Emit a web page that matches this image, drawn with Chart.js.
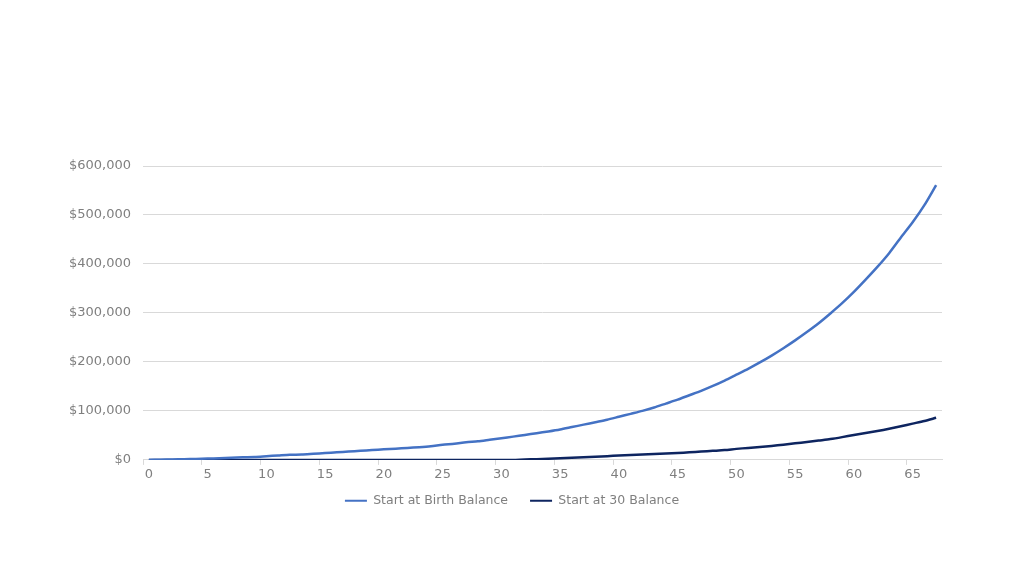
<!DOCTYPE html>
<html>
<head>
<meta charset="utf-8">
<script src="https://cdn.jsdelivr.net/npm/chart.js@4"></script>
<style>
html,body{margin:0;padding:0;background:#fff;}
#wrap{width:1024px;height:576px;}
</style>
</head>
<body>
<div id="wrap"><canvas id="c" width="1024" height="576"></canvas></div>
<script>
const ages = Array.from({length: 68}, (_, i) => String(i));
const birthBalance = [
  0, 500, 1000, 1500, 2000, 2700, 3400, 4200, 5200, 6000,
  7500, 9000, 10500, 11000, 12500, 14000, 15500, 17000, 18500, 20000,
  21500, 23000, 24500, 26000, 28000, 31000, 33000, 36000, 38000, 41000,
  44000, 47500, 51000, 54500, 58000, 62000, 67000, 72000, 77000, 82000,
  88000, 94000, 100000, 107000, 115000, 123000, 132000, 141000, 151000, 162000,
  174000, 186000, 199000, 213000, 228000, 244000, 261000, 279000, 299000, 320000,
  343000, 368000, 394000, 422000, 454000, 485000, 520000, 561000
];
const start30Balance = [
  0, 0, 0, 0, 0, 0, 0, 0, 0, 0,
  0, 0, 0, 0, 0, 0, 0, 0, 0, 0,
  0, 0, 0, 0, 0, 0, 0, 0, 0, 0,
  0, 0, 1000, 1500, 2500, 3500, 4500, 5500, 6500, 7500,
  9000, 10000, 11000, 12000, 13000, 14000, 15500, 17000, 18500, 20000,
  22500, 24500, 26500, 28500, 31000, 34000, 36500, 39500, 42500, 46500,
  51000, 55000, 59000, 63500, 68500, 74000, 79500, 86000
];
const seriesNames = ['Start at Birth Balance', 'Start at 30 Balance'];
const yTicks = [0, 100000, 200000, 300000, 400000, 500000, 600000];

const FONT = 'DejaVu Sans';
const GREY = '#7f7f7f';

const legendShift = {
  id: 'legendShift',
  afterUpdate(chart) {
    const lg = chart.legend;
    if (!lg) return;
    lg.top -= 12;
    lg.bottom -= 12;
    if (lg.adjustHitBoxes) lg.adjustHitBoxes();
  }
};

new Chart(document.getElementById('c'), {
  type: 'line',
  data: {
    labels: ages,
    datasets: [
      { label: seriesNames[0], data: birthBalance, borderColor: '#4472C4', backgroundColor: '#4472C4', borderWidth: 2.5, pointRadius: 0, tension: 0.25 },
      { label: seriesNames[1], data: start30Balance, borderColor: '#0E2560', backgroundColor: '#0E2560', borderWidth: 2.5, pointRadius: 0, tension: 0.25 }
    ]
  },
  plugins: [legendShift],
  options: {
    responsive: false,
    animation: false,
    devicePixelRatio: 1,
    layout: { padding: { top: 166, right: 0, bottom: 47, left: 0 } },
    plugins: {
      tooltip: { enabled: false },
      legend: {
        position: 'bottom',
        labels: {
          boxWidth: 22, boxHeight: 2, padding: 22,
          color: GREY, font: { family: FONT, size: 12.5 },
          generateLabels: (chart) => Chart.defaults.plugins.legend.labels.generateLabels(chart).map(it => Object.assign(it, { lineWidth: 0 }))
        }
      }
    },
    scales: {
      x: {
        offset: true,
        border: { display: true, color: '#d9d9d9' },
        grid: {
          offset: true,
          drawOnChartArea: false,
          drawTicks: true,
          tickLength: 5,
          color: (ctx) => (ctx.index % 5 === 0 ? '#d9d9d9' : 'rgba(0,0,0,0)')
        },
        ticks: {
          autoSkip: false, maxRotation: 0, minRotation: 0,
          color: GREY, font: { family: FONT, size: 13 }, padding: 2,
          callback: (v, i) => (i % 5 === 0 ? ages[i] : '')
        }
      },
      y: {
        min: yTicks[0], max: yTicks[yTicks.length - 1],
        afterFit: (s) => { s.width = 143; },
        afterBuildTicks: (s) => { s.ticks = yTicks.map(v => ({ value: v })); },
        border: { display: false },
        grid: { color: '#d9d9d9', drawTicks: false },
        ticks: {
          color: GREY, font: { family: FONT, size: 13 }, padding: 12,
          callback: (v) => '$' + Number(v).toLocaleString('en-US')
        }
      },
      yRight: {
        position: 'right',
        min: 0, max: 1,
        afterFit: (s) => { s.width = 82; },
        border: { display: false },
        grid: { display: false, drawTicks: false },
        ticks: { display: false }
      }
    }
  }
});
</script>
</body>
</html>
